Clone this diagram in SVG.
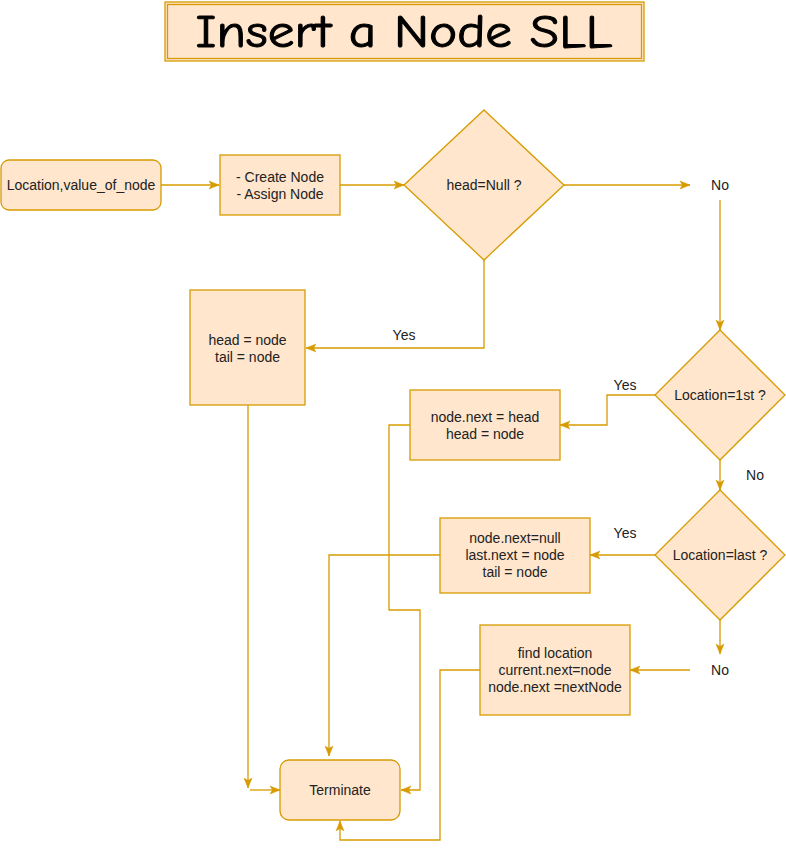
<svg xmlns="http://www.w3.org/2000/svg" width="786" height="849" viewBox="0 0 786 849">
<defs>
<marker id="arr" markerUnits="userSpaceOnUse" markerWidth="10" markerHeight="10" viewBox="0 0 10 10" refX="10" refY="5" orient="auto">
<path d="M0,1 L10,5 L0,9 L2.5,5 Z" fill="#d79b00" stroke="#d79b00" stroke-width="0.5"/>
</marker>
<style>
.box{fill:#ffe6cc;stroke:#d79b00;stroke-width:1.3}
.t{font-family:"Liberation Sans",Arial,sans-serif;font-size:14px;fill:#222;text-anchor:middle}
.e{fill:none;stroke:#d79b00;stroke-width:1.3}
.title{font-family:"Comic Sans MS","Comic Neue","DejaVu Sans",sans-serif;font-size:46px;fill:#000;stroke:#000;stroke-width:1;text-anchor:middle}
</style>
</defs>
<rect width="786" height="849" fill="#ffffff"/>

<g id="title">
<rect x="165" y="2" width="479" height="59" fill="#ffe6cc" stroke="#d79b00" stroke-width="1.3"/>
<rect x="167.5" y="4.5" width="474" height="54" fill="none" stroke="#d79b00" stroke-width="1.3"/>
<text class="title" x="404" y="47" textLength="417" lengthAdjust="spacingAndGlyphs">Insert a Node SLL</text>
</g>

<g id="connectors">
<path class="e" d="M161,185 H219" marker-end="url(#arr)"/>
<path class="e" d="M340,185 H404" marker-end="url(#arr)"/>
<path class="e" d="M564,185 H690" marker-end="url(#arr)"/>
<path class="e" d="M720,200 V330" marker-end="url(#arr)"/>
<path class="e" d="M484,260 V348 H306" marker-end="url(#arr)"/>
<path class="e" d="M655,395 H607 V425 H560" marker-end="url(#arr)"/>
<path class="e" d="M720,460 V490" marker-end="url(#arr)"/>
<path class="e" d="M655,555 H590" marker-end="url(#arr)"/>
<path class="e" d="M720,620 V654" marker-end="url(#arr)"/>
<path class="e" d="M690,670 H630" marker-end="url(#arr)"/>
<path class="e" d="M248,405 V788" marker-end="url(#arr)"/>
<path class="e" d="M250,790 H280" marker-end="url(#arr)"/>
<path class="e" d="M410,425 H389 V610 H420 V790 H401" marker-end="url(#arr)"/>
<path class="e" d="M440,555 H329 V756" marker-end="url(#arr)"/>
<path class="e" d="M480,670 H440 V840 H340 V821" marker-end="url(#arr)"/>
</g>

<g id="labels">
<text class="t" x="720" y="190">No</text>
<text class="t" x="404" y="340">Yes</text>
<text class="t" x="625" y="390">Yes</text>
<text class="t" x="755" y="480">No</text>
<text class="t" x="625" y="538">Yes</text>
<text class="t" x="720" y="675">No</text>
</g>

<g id="start">
<rect class="box" x="1" y="160" width="160" height="50" rx="8"/>
<text class="t" x="81" y="190">Location,value_of_node</text>
</g>

<g id="create">
<rect class="box" x="220" y="155" width="120" height="60"/>
<text class="t" x="280" y="182">- Create Node</text>
<text class="t" x="280" y="199">- Assign Node</text>
</g>

<g id="headnull">
<path class="box" d="M484,110 L564,185 L484,260 L404,185 Z"/>
<text class="t" x="484" y="190">head=Null ?</text>
</g>

<g id="headnode">
<rect class="box" x="190" y="290" width="115" height="115"/>
<text class="t" x="247.5" y="345">head = node</text>
<text class="t" x="247.5" y="362">tail = node</text>
</g>

<g id="loc1st">
<path class="box" d="M720,330 L785,395 L720,460 L655,395 Z"/>
<text class="t" x="720" y="400">Location=1st ?</text>
</g>

<g id="insfirst">
<rect class="box" x="410" y="390" width="150" height="70"/>
<text class="t" x="485" y="422">node.next = head</text>
<text class="t" x="485" y="439">head = node</text>
</g>

<g id="loclast">
<path class="box" d="M720,490 L785,555 L720,620 L655,555 Z"/>
<text class="t" x="720" y="560">Location=last ?</text>
</g>

<g id="inslast">
<rect class="box" x="440" y="518" width="150" height="75"/>
<text class="t" x="515" y="543">node.next=null</text>
<text class="t" x="515" y="560">last.next = node</text>
<text class="t" x="515" y="577">tail = node</text>
</g>

<g id="insmid">
<rect class="box" x="480" y="625" width="150" height="90"/>
<text class="t" x="555" y="658">find location</text>
<text class="t" x="555" y="675">current.next=node</text>
<text class="t" x="555" y="692">node.next =nextNode</text>
</g>

<g id="terminate">
<rect class="box" x="280" y="760" width="120" height="60" rx="9"/>
<text class="t" x="340" y="795">Terminate</text>
</g>
</svg>
